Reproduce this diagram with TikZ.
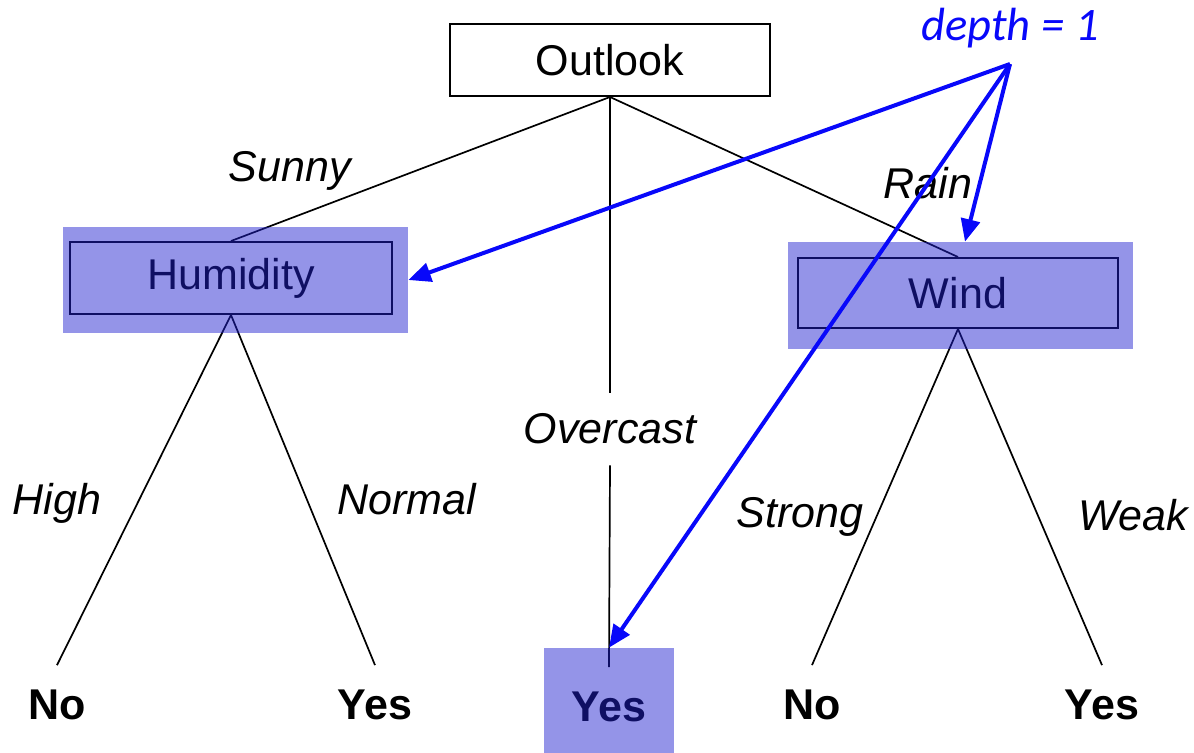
\documentclass[tikz,border=0pt]{standalone}
\usepackage{fontspec}
\setmainfont{Liberation Sans}
\newfontfamily\calib{Carlito}
\definecolor{treeBlack}{RGB}{0, 0, 0}
\definecolor{markBlue}{RGB}{32, 32, 207}
\definecolor{pointerBlue}{RGB}{8, 8, 250}
\usetikzlibrary{positioning,calc,arrows.meta}

\begin{document}
\begin{tikzpicture}[x=0.02cm,y=-0.02cm,
                attr/.style={draw=treeBlack,line width=0.04cm,minimum width=6.4cm,minimum height=1.44cm,
                             font=\fontsize{24.5}{28}\selectfont,inner sep=0pt},
                branch/.style={font=\fontsize{24.5}{28}\selectfont\itshape,inner sep=0pt},
                leaf/.style={font=\fontsize{24.5}{28}\selectfont\bfseries,inner xsep=0pt,inner ysep=0.49cm},
                tree/.style={draw=treeBlack,line width=0.034cm},
                highlight/.style={fill=markBlue,fill opacity=0.48,inner sep=0pt},
                pointer/.style={draw=pointerBlue,line width=0.08cm,-{Triangle[length=0.45cm,width=0.38cm]}}
            ]
                \useasboundingbox (0,0) rectangle (1194,753);
                % decision nodes
                \node[attr] (outlook) at (610,60) {Outlook};
                \node[attr,minimum width=6.44cm] (humidity) at (231,278) {Humidity};
                \node[attr,minimum height=1.4cm] (wind) at (958,293) {Wind};
                % leaves
                \node[leaf] (noHigh) at (57,705) {No};
                \node[leaf] (yesNormal) at (375,705) {Yes};
                \node[leaf] (yesOvercast) at (609,707) {Yes};
                \node[leaf] (noStrong) at (812,705) {No};
                \node[leaf] (yesWeak) at (1102,705) {Yes};
                % branch labels
                \node[branch] (sunny) at (290,171) {Sunny};
                \node[branch] (rain) at (928,183) {Rain};
                \node[branch,minimum height=1.44cm] (overcast) at (610,429) {Overcast};
                \node[branch] (high) at (57,503) {High};
                \node[branch] (normal) at (407,499) {Normal};
                \node[branch] (strong) at (800,517) {Strong};
                \node[branch] (weak) at (1133,515) {Weak};
                % edges
                \draw[tree] (outlook.south) -- (humidity.north);
                \draw[tree] (outlook.south) -- (wind.north);
                \draw[tree] (outlook.south) -- (overcast.north);
                \draw[tree] (overcast.south) -- (yesOvercast.north);
                \draw[tree] (humidity.south) -- (noHigh.north);
                \draw[tree] (humidity.south) -- (yesNormal.north);
                \draw[tree] (wind.south) -- (noStrong.north);
                \draw[tree] (wind.south) -- (yesWeak.north);
                % depth highlight
                \node[highlight,minimum width=6.9cm,minimum height=2.12cm] (hlHumidity) at (235.5,280) {};
                \node[highlight,minimum width=6.9cm,minimum height=2.14cm] (hlWind) at (960.5,295.5) {};
                \node[highlight,minimum width=2.6cm,minimum height=2.1cm] (hlYes) at (609,700.5) {};
                \node[font=\fontsize{26.5}{30}\selectfont\calib\itshape,text=pointerBlue,inner sep=0pt] (depth) at (1010,28) {depth = 1};
                \coordinate (origin) at (1010,64);
                \draw[pointer] (origin) -- (hlHumidity.east);
                \draw[pointer] (origin) -- ([xshift=0.09cm]hlWind.north);
                \draw[pointer] (origin) -- (hlYes.north);
            \end{tikzpicture}
\end{document}
